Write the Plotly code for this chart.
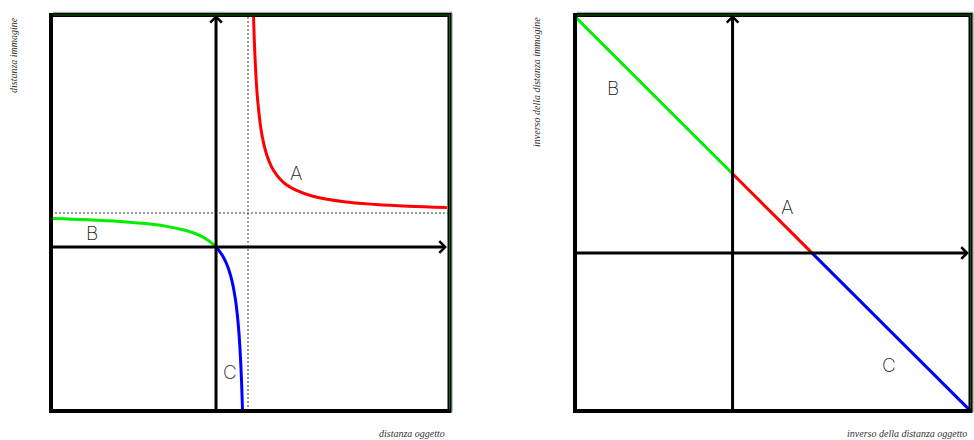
import plotly.graph_objects as go

# ---------------- data (f = 1) ----------------
# left panel: image distance q vs object distance p
a_p = [1.172, 1.2, 1.25, 1.3, 1.4, 1.5, 1.6, 1.7, 1.8, 2.0, 2.2, 2.5, 3.0, 4.0, 5.0, 6.0, 7.22]
a_q = [6.81, 6.0, 5.0, 4.33, 3.5, 3.0, 2.67, 2.43, 2.25, 2.0, 1.83, 1.67, 1.5, 1.33, 1.25, 1.2, 1.16]
b_p = [-5.16, -4.0, -3.0, -2.0, -1.5, -1.0, -0.7, -0.5, -0.3, -0.15, 0.0]
b_q = [0.838, 0.8, 0.75, 0.667, 0.6, 0.5, 0.412, 0.333, 0.231, 0.13, 0.0]
c_p = [0.0, 0.1, 0.2, 0.3, 0.4, 0.5, 0.6, 0.65, 0.7, 0.75, 0.8, 0.83]
c_q = [0.0, -0.111, -0.25, -0.429, -0.667, -1.0, -1.5, -1.857, -2.333, -3.0, -4.0, -4.88]
focal = 1.0

# right panel: 1/q vs 1/p
inv_b_x = [-2.0, 0.0]
inv_b_y = [3.0, 1.0]
inv_a_x = [0.0, 1.0]
inv_a_y = [1.0, 0.0]
inv_c_x = [1.0, 3.0]
inv_c_y = [0.0, -2.0]

labels = ["A", "B", "C"]
left_label_pos = [(2.49, 2.15), (-3.88, 0.40), (0.44, -3.68)]
right_label_pos = [(0.69, 0.58), (-1.50, 2.08), (1.97, -1.42)]

# axis ranges
L_X = [-5.16, 7.30]
L_Y = [-4.82, 6.82]
R_X = [-1.98, 2.99]
R_Y = [-1.99, 3.0]

W, H = 974, 440
LDOM_X = [51 / W, 449.5 / W]
RDOM_X = [575 / W, 970.5 / W]
DOM_Y = [1 - 411 / H, 1 - 15 / H]

RED, GREEN, BLUE = "#ff0000", "#00ee00", "#0000ff"

fig = go.Figure()

def curve(x, y, color, xa, ya, spline=True):
    fig.add_trace(go.Scatter(
        x=x, y=y, mode="lines", xaxis=xa, yaxis=ya,
        line=dict(color=color, width=3, shape="spline" if spline else "linear"),
        hoverinfo="skip", showlegend=False))

curve(a_p, a_q, RED, "x", "y")
curve(b_p, b_q, GREEN, "x", "y")
curve(c_p, c_q, BLUE, "x", "y")
curve(inv_b_x, inv_b_y, GREEN, "x2", "y2", spline=False)
curve(inv_a_x, inv_a_y, RED, "x2", "y2", spline=False)
curve(inv_c_x, inv_c_y, BLUE, "x2", "y2", spline=False)

shapes = []
# dashed asymptotes (left)
shapes.append(dict(type="line", xref="x", yref="y", x0=focal, x1=focal, y0=L_Y[0], y1=L_Y[1],
                   line=dict(color="#333", width=1, dash="2px,2px")))
shapes.append(dict(type="line", xref="x", yref="y", x0=L_X[0], x1=L_X[1], y0=focal, y1=focal,
                   line=dict(color="#333", width=1, dash="2px,2px")))

# boxes with 3-d style edges
for xd in (LDOM_X, RDOM_X):
    x0, x1 = xd
    y0, y1 = DOM_Y
    shapes.append(dict(type="line", xref="paper", yref="paper", x0=x0 + 2 / W, x1=x1 + 2.5 / W,
                       y0=y1 + 2.5 / H, y1=y1 + 2.5 / H, line=dict(color="#aaaaaa", width=1.5)))
    shapes.append(dict(type="line", xref="paper", yref="paper", x0=x1 + 2.5 / W, x1=x1 + 2.5 / W,
                       y0=y0 - 1 / H, y1=y1 + 2.5 / H, line=dict(color="#aaaaaa", width=1.5)))
    shapes.append(dict(type="rect", xref="paper", yref="paper", x0=x0, x1=x1, y0=y0, y1=y1,
                       line=dict(color="black", width=4)))
    shapes.append(dict(type="line", xref="paper", yref="paper", x0=x0 + 2 / W, x1=x1,
                       y0=y1, y1=y1, line=dict(color="#0a6a0a", width=1)))
    shapes.append(dict(type="line", xref="paper", yref="paper", x0=x1, x1=x1,
                       y0=y0 + 2 / H, y1=y1, line=dict(color="#0a6a0a", width=1)))

annotations = []

def arrow(xa, ya, x, y, ax, ay):
    annotations.append(dict(xref=xa, yref=ya, axref=xa, ayref=ya, x=x, y=y, ax=ax, ay=ay,
                            text="", showarrow=True, arrowhead=4, arrowsize=0.75,
                            arrowwidth=3, arrowcolor="black", standoff=0, startstandoff=0))

# left axes
arrow("x", "y", 0, L_Y[1], 0, L_Y[0])
arrow("x", "y", 7.22, 0, L_X[0], 0)
# right axes
arrow("x2", "y2", 0, R_Y[1], 0, R_Y[0])
arrow("x2", "y2", 2.97, 0, R_X[0], 0)

lab_font = dict(family="Inter, DejaVu Sans", size=19, color="#1a1a1a", weight=200)
for t, (x, y) in zip(labels, left_label_pos):
    annotations.append(dict(xref="x", yref="y", x=x, y=y, text=t, showarrow=False, font=lab_font))
for t, (x, y) in zip(labels, right_label_pos):
    annotations.append(dict(xref="x2", yref="y2", x=x, y=y, text=t, showarrow=False, font=lab_font))

tfont = dict(family="Liberation Serif, Times New Roman, serif", size=10, color="#333333")
annotations += [
    dict(xref="paper", yref="paper", x=14 / W, y=1 - 15 / H, xanchor="center", yanchor="top",
         text="<i>distanza immagine</i>", textangle=-90, showarrow=False, font=tfont),
    dict(xref="paper", yref="paper", x=537 / W, y=1 - 15 / H, xanchor="center", yanchor="top",
         text="<i>inverso della distanza immagine</i>", textangle=-90, showarrow=False, font=tfont),
    dict(xref="paper", yref="paper", x=447 / W, y=1 - 433 / H, xanchor="right", yanchor="middle",
         text="<i>distanza oggetto</i>", showarrow=False, font=tfont),
    dict(xref="paper", yref="paper", x=969 / W, y=1 - 433 / H, xanchor="right", yanchor="middle",
         text="<i>inverso della distanza oggetto</i>", showarrow=False, font=tfont),
]

ax_common = dict(showgrid=False, zeroline=False, showline=False, showticklabels=False,
                 ticks="", fixedrange=True)
fig.update_layout(
    width=W, height=H, margin=dict(l=0, r=0, t=0, b=0),
    paper_bgcolor="white", plot_bgcolor="white", showlegend=False,
    xaxis=dict(domain=LDOM_X, range=L_X, anchor="y", **ax_common),
    yaxis=dict(domain=DOM_Y, range=L_Y, anchor="x", **ax_common),
    xaxis2=dict(domain=RDOM_X, range=R_X, anchor="y2", **ax_common),
    yaxis2=dict(domain=DOM_Y, range=R_Y, anchor="x2", **ax_common),
    shapes=shapes, annotations=annotations,
)

fig.write_html("out.html", config={"displayModeBar": False},
               post_script="document.body.style.margin='0';document.body.style.overflow='hidden';")
